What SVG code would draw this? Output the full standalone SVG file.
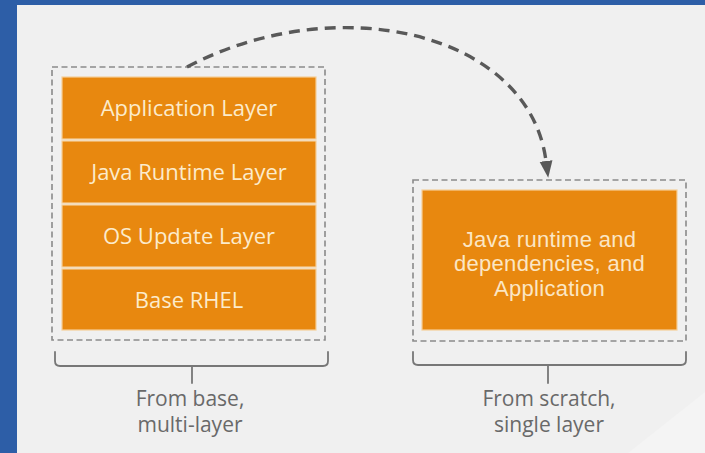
<svg xmlns="http://www.w3.org/2000/svg" width="705" height="453" viewBox="0 0 705 453">
  <style>
    .frame { fill: none; stroke: #8a8a8a; stroke-width: 1.6; stroke-dasharray: 6 3.5; }
    .layer { fill: #E8880F; stroke: #F6CF98; stroke-width: 1.2; }
    .layer-text { font-family: "Open Sans", "Noto Sans", sans-serif; font-size: 22px; fill: #FCEBCB; text-anchor: middle; }
    .block-text { font-family: "Liberation Sans", Arial, sans-serif; font-size: 22px; letter-spacing: 0.3px; fill: #FBE6C4; text-anchor: middle; }
    .caption { font-family: "Open Sans", "Noto Sans", sans-serif; font-size: 21px; fill: #696969; text-anchor: middle; }
    .brace { fill: none; stroke: #777; stroke-width: 1.8; stroke-linecap: round; stroke-linejoin: round; }
    .flow { fill: none; stroke: #595959; stroke-width: 3.4; stroke-dasharray: 11 7; }
  </style>
  <defs>
    <marker id="arrow" markerUnits="userSpaceOnUse" viewBox="0 -7 18 14" markerWidth="18" markerHeight="14" refX="0" refY="0" orient="auto">
      <path d="M0,-6.5 L17,0 L0,6.5 z" fill="#595959"/>
    </marker>
  </defs>

  <!-- page background -->
  <rect x="0" y="0" width="705" height="453" fill="#2D5EA7"/>
  <rect x="17" y="5" width="688" height="448" fill="#F0F0F0"/>
  <polygon points="705,392 705,453 628,453" fill="#F4F4F4"/>

  <!-- multi-layer image -->
  <g id="multi-layer-stack">
    <rect class="frame" x="52" y="67" width="273" height="273"/>
    <g id="layer-application">
      <rect class="layer" x="62" y="77" width="254" height="62"/>
      <text class="layer-text" x="189" y="116">Application Layer</text>
    </g>
    <g id="layer-java-runtime">
      <rect class="layer" x="62" y="141" width="254" height="62"/>
      <text class="layer-text" x="189" y="180">Java Runtime Layer</text>
    </g>
    <g id="layer-os-update">
      <rect class="layer" x="62" y="205" width="254" height="62"/>
      <text class="layer-text" x="189" y="244">OS Update Layer</text>
    </g>
    <g id="layer-base-rhel">
      <rect class="layer" x="62" y="269" width="254" height="61"/>
      <text class="layer-text" x="189" y="308">Base RHEL</text>
    </g>
  </g>

  <!-- single-layer image -->
  <g id="single-layer">
    <rect class="frame" x="413" y="180" width="273" height="161"/>
    <rect class="layer" x="422" y="190" width="255" height="140"/>
    <text class="block-text" x="549.5" y="246.5">Java runtime and</text>
    <text class="block-text" x="549.5" y="271">dependencies, and</text>
    <text class="block-text" x="549.5" y="295.5">Application</text>
  </g>

  <!-- captions with braces -->
  <g id="caption-multi">
    <path class="brace" d="M55,352 V361 Q55,366 60,366 H323 Q328,366 328,361 V352 M192,366 V383"/>
    <text class="caption" x="190" y="406">From base,</text>
    <text class="caption" x="190" y="432">multi-layer</text>
  </g>
  <g id="caption-single">
    <path class="brace" d="M413,352 V360 Q413,365 418,365 H681 Q686,365 686,360 V352 M548,365 V383"/>
    <text class="caption" x="549" y="406">From scratch,</text>
    <text class="caption" x="549" y="432">single layer</text>
  </g>

  <!-- connectors -->
  <g id="connectors">
    <path class="flow" d="M187,67 C 337,-12 529,32 546,161" marker-end="url(#arrow)"/>
  </g>
</svg>
